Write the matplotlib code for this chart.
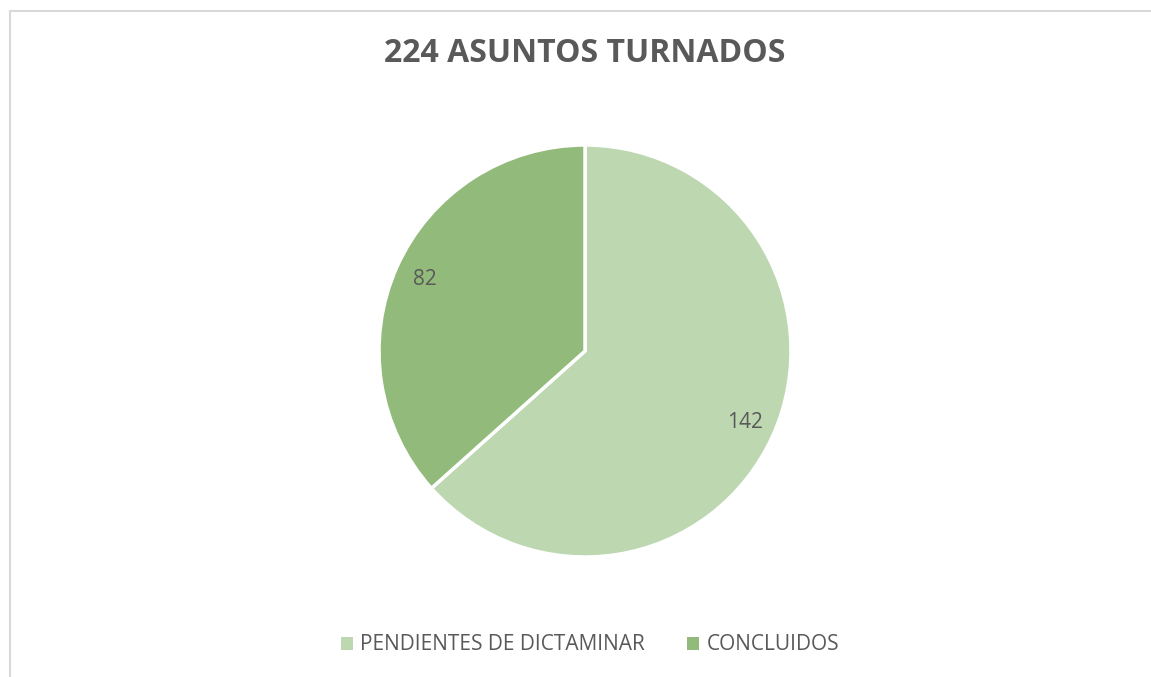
import matplotlib
matplotlib.use("Agg")
import matplotlib.pyplot as plt
from matplotlib.lines import Line2D

# datos
categorias = ['PENDIENTES DE DICTAMINAR', 'CONCLUIDOS']
valores = [142, 82]
colores = ['#BDD7B0', '#92BB7B']
titulo = '224 ASUNTOS TURNADOS'

plt.rcParams['font.family'] = ['Open Sans', 'DejaVu Sans']
gris = '#595959'

W, H = 1151, 677
fig = plt.figure(figsize=(W / 100, H / 100), dpi=100)

# marco del grafico (gris claro, arriba e izquierda)
fig.add_artist(Line2D([9.5 / W, 9.5 / W], [0, 1 - 10.5 / H], transform=fig.transFigure,
                      color='#D9D9D9', lw=1.5))
fig.add_artist(Line2D([9.5 / W, 1], [1 - 10.5 / H, 1 - 10.5 / H], transform=fig.transFigure,
                      color='#D9D9D9', lw=1.5))

# pastel
cx, cy, r = 585, 351, 206
ax = fig.add_axes([(cx - r) / W, (H - cy - r) / H, 2 * r / W, 2 * r / H])
total = sum(valores)
cunas, textos, autotextos = ax.pie(
    valores, colors=colores, startangle=90, counterclock=False,
    autopct=lambda p: '%d' % round(p * total / 100), pctdistance=0.85,
    wedgeprops=dict(edgecolor='white', linewidth=2.5),
    textprops=dict(color=gris, fontsize=15))
ax.set_aspect('equal')
ax.set_xlim(-1, 1)
ax.set_ylim(-1, 1)
ax.axis('off')

fig.text(cx / W, 1 - 53 / H, titulo, ha='center', va='center',
         fontsize=23, fontweight='bold', color=gris)

# leyenda con cuadros sin borde blanco
fig.legend(cunas, categorias, loc='center', bbox_to_anchor=(590 / W, 1 - 645 / H),
           ncol=2, frameon=False, fontsize=15, handlelength=0.6, handleheight=0.6,
           handletextpad=0.35, columnspacing=2.0, labelcolor=gris)
for h in fig.legends[0].legend_handles:
    h.set_linewidth(0)

fig.savefig('out.png', dpi=100)
